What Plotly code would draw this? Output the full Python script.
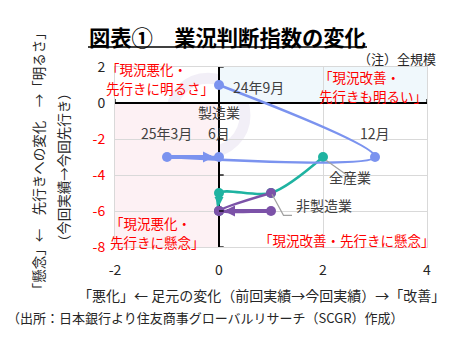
import plotly.graph_objects as go

# ---- data ----
mfg_x = [0, 3, -1, 0]
mfg_y = [1, -3, -3, -3]
all_x = [2, 1, 0, 0]
all_y = [-3, -5, -5, -6]
non_x = [1, 0, 1, 0]
non_y = [-5, -6, -6, -6]
x_ticks = [-2, 0, 2, 4]
y_ticks = [-8, -6, -4, -2, 0, 2]

BLUE = "#7b93ef"
TEAL = "#1fb3a1"
PURPLE = "#7c52a8"
RED = "#ff0000"
TXT = "#404040"
FONT = "Noto Sans CJK JP"

W, H = 454, 337
L, R, T, B = 115, 427, 66.7, 246.7


def px(x):
    return (x - L) / (R - L)


def py(y):
    return (B - y) / (B - T)


fig = go.Figure()

for xs, ys, col in [(all_x, all_y, TEAL), (non_x, non_y, PURPLE), (mfg_x, mfg_y, BLUE)]:
    fig.add_trace(go.Scatter(
        x=xs, y=ys, mode="lines+markers",
        line=dict(color=col, width=2.5, shape="spline", smoothing=0.9),
        marker=dict(color=col, size=10),
        hoverinfo="skip", showlegend=False, cliponaxis=False,
    ))

ann = []
# arrows for the last step of each series
for xs, ys, col, w, s in [(mfg_x, mfg_y, BLUE, 4, 0.55), (non_x, non_y, PURPLE, 4, 0.55),
                          (all_x, all_y, TEAL, 2, 0.9)]:
    ann.append(dict(x=xs[-1], y=ys[-1], ax=xs[-2], ay=ys[-2], xref="x", yref="y",
                    axref="x", ayref="y", showarrow=True, arrowhead=2, arrowsize=s,
                    arrowwidth=w, arrowcolor=col, standoff=5, startstandoff=0, text=""))

# data labels
lab = dict(font=dict(family=FONT, size=14, color=TXT), showarrow=False)
ann += [
    dict(x=0, y=1, xref="x", yref="y", text="24年9月", xanchor="left", xshift=12, yshift=-2, **lab),
    dict(x=0, y=-0.5, xref="x", yref="y", text="製造業", xanchor="center", **lab),
    dict(x=px(166), y=py(133), xref="paper", yref="paper", text="25年3月", xanchor="center", **lab),
    dict(x=px(219), y=py(133), xref="paper", yref="paper", text="6月", xanchor="center", **lab),
    dict(x=px(375), y=py(133), xref="paper", yref="paper", text="12月", xanchor="center", **lab),
    dict(x=px(350), y=py(188.5), xref="paper", yref="paper", text="全産業", xanchor="center", **lab),
    dict(x=px(294), y=py(216.7), xref="paper", yref="paper", text="非製造業", xanchor="left", **lab),
]

red = dict(font=dict(family=FONT, size=13.5, color=RED), showarrow=False, align="left",
           xref="paper", yref="paper", xanchor="left", yanchor="middle")
for x0, y0, lines in [(104, 68.2, ["「現況悪化・", "先行きに明るさ」"]),
                      (317, 76.2, ["「現況改善・", "先行きも明るい」"]),
                      (108, 222.2, ["「現況悪化・", "先行きに懸念」"]),
                      (257, 240, ["「現況改善・先行きに懸念」"])]:
    for i, t in enumerate(lines):
        ann.append(dict(x=px(x0), y=py(y0 + 19.8 * i), text=t, **red))

# titles / notes
ann += [
    dict(x=px(87), y=py(36), xref="paper", yref="paper", xanchor="left", yanchor="middle",
         text="<b>図表①　業況判断指数の変化</b>", showarrow=False,
         font=dict(family=FONT, size=21.3, color="#000000")),
    dict(x=px(438), y=py(58), xref="paper", yref="paper", xanchor="right", yanchor="middle",
         text="（注）全規模", showarrow=False, font=dict(family=FONT, size=13, color="#262626")),
    dict(x=px(261), y=py(295), xref="paper", yref="paper", xanchor="center", yanchor="middle",
         text="「悪化」← 足元の変化（前回実績→今回実績）→「改善」", showarrow=False,
         font=dict(family=FONT, size=14, color="#262626")),
    dict(x=px(5), y=py(317), xref="paper", yref="paper", xanchor="left", yanchor="middle",
         text="（出所：日本銀行より住友商事グローバルリサーチ（SCGR）作成）", showarrow=False,
         font=dict(family=FONT, size=13, color="#262626")),
    dict(x=px(38), y=py(161), xref="paper", yref="paper", xanchor="center", yanchor="middle",
         text="「懸念」←　先行きへの変化　→「明るさ」", textangle=-90, showarrow=False,
         font=dict(family=FONT, size=13.5, color="#262626")),
    dict(x=px(63), y=py(167), xref="paper", yref="paper", xanchor="center", yanchor="middle",
         text="（今回実績→今回先行き）", textangle=-90, showarrow=False,
         font=dict(family=FONT, size=13.5, color="#262626")),
]

shapes = [
    dict(type="rect", xref="x", yref="y", x0=-2, x1=0, y0=-8, y1=0, fillcolor="#fdf1f4",
         line=dict(width=0), layer="below"),
    dict(type="rect", xref="x", yref="y", x0=0, x1=4, y0=0, y1=2, fillcolor="#f0f8fc",
         line=dict(width=0), layer="below"),
    # faint cycle watermark
    dict(type="circle", xref="paper", yref="paper", x0=px(171), x1=px(245), y0=py(152), y1=py(78),
         line=dict(color="rgba(185,165,210,0.18)", width=11), layer="below"),
    # title underline
    dict(type="line", xref="paper", yref="paper", x0=px(88), x1=px(367), y0=py(46.7), y1=py(46.7),
         line=dict(color="#000000", width=1.5)),
    # leader line for 全産業
    dict(type="path", xref="paper", yref="paper",
         path=f"M {px(326)} {py(160)} L {px(350)} {py(177)}",
         line=dict(color="#a0a0a0", width=1.2)),
    # leader line for 非製造業
    dict(type="path", xref="paper", yref="paper",
         path=f"M {px(272)} {py(194)} L {px(283.5)} {py(215)} L {px(292)} {py(215)}",
         line=dict(color="#a0a0a0", width=1.2)),
]
# small ticks on the black cross axes
for v in y_ticks:
    shapes.append(dict(type="line", xref="x", yref="y", x0=0, x1=0.09, y0=v, y1=v,
                       line=dict(color="#000000", width=1.3)))
for v in x_ticks:
    shapes.append(dict(type="line", xref="x", yref="y", x0=v, x1=v, y0=0, y1=0.22,
                       line=dict(color="#000000", width=1.3)))

fig.update_layout(
    width=W, height=H,
    margin=dict(l=L, r=W - R, t=T, b=H - B),
    paper_bgcolor="white", plot_bgcolor="white",
    font=dict(family=FONT, color="#262626"),
    annotations=ann, shapes=shapes,
)
fig.update_xaxes(
    range=[-2, 4], tickvals=x_ticks, ticktext=[str(v) for v in x_ticks],
    showgrid=True, gridcolor="#d9d9d9", gridwidth=1,
    zeroline=True, zerolinecolor="#000000", zerolinewidth=1.5,
    showline=True, linecolor="#d9d9d9", linewidth=1, mirror=True,
    ticks="", ticklabelstandoff=10, tickfont=dict(family=FONT, size=14, color="#262626"),
    fixedrange=True,
)
fig.update_yaxes(
    range=[-8, 2], tickvals=y_ticks,
    ticktext=[(f"<span style='color:{RED}'>{v}</span>" if v < 0 else str(v)) for v in y_ticks],
    showgrid=True, gridcolor="#d9d9d9", gridwidth=1,
    zeroline=True, zerolinecolor="#000000", zerolinewidth=1.5,
    showline=True, linecolor="#d9d9d9", linewidth=1, mirror=True,
    ticks="", ticklabelstandoff=6, tickfont=dict(family=FONT, size=14, color="#262626"),
    fixedrange=True,
)

fig.write_html("out.html")
